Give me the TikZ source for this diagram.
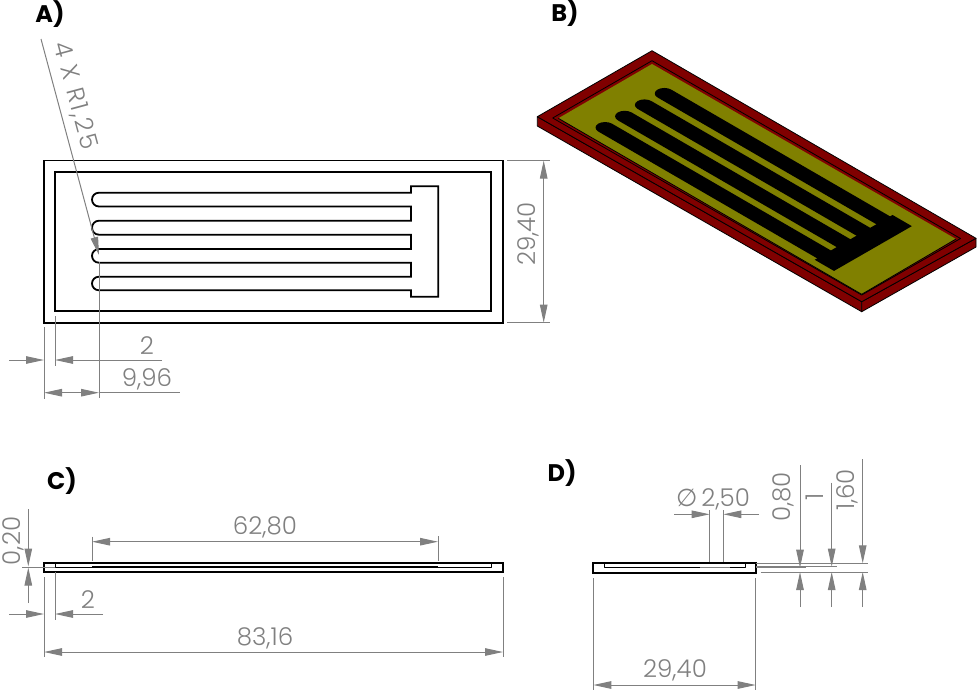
\documentclass[tikz,border=0pt]{standalone}
\usepackage{fontspec}
\setmainfont{Poppins}
\newfontfamily\dimfont{Poppins Light}
\newfontfamily\symfont{DejaVu Sans}
\usetikzlibrary{arrows.meta}
\definecolor{dimgray}{HTML}{808080}
\definecolor{boardred}{HTML}{800000}
\definecolor{boardolive}{HTML}{808000}
\tikzset{
  part/.style={black, line width=1.8pt, line join=miter},
  edgeline/.style={black, line width=0.8pt, line join=round},
  dimline/.style={dimgray, line width=1pt},
  dimarrow/.style={dimline, -{Triangle[length=18pt,width=7.5pt]}},
  dimboth/.style={dimline, {Triangle[length=18pt,width=7.5pt]}-{Triangle[length=18pt,width=7.5pt]}},
  dimlabel/.style={dimgray, font=\dimfont\fontsize{24.5}{24.5}\selectfont, inner sep=0pt},
  viewlabel/.style={black, font=\bfseries\fontsize{24}{24}\selectfont, inner sep=0pt},
}
\begin{document}
\begin{tikzpicture}[x=1pt,y=-1pt]
  \useasboundingbox (0,0) rectangle (980,694);

  % view labels
  \node [viewlabel] (labelA) at (50,14) {A)};
  \node [viewlabel] (labelB) at (565,13) {B)};
  \node [viewlabel] (labelC) at (62,481) {C)};
  \node [viewlabel] (labelD) at (562,473) {D)};

  % A) plan
  \draw [part] (44,160.5) rectangle (502.7,322.7);
  \draw [part] (55,172) rectangle (491,311);
  \draw [part] (99,192.7) -- (411,192.7) -- (411,186.3) -- (438.3,186.3) -- (438.3,296.7) -- (411,296.7) -- (411,290.3)
    -- (99,290.3) .. controls (95,290.3) and (92,287.2) .. (92,283.5) .. controls (92,279.8) and (95,276.7) .. (99,276.7)
    -- (411,276.7) -- (411,262.7)
    -- (99,262.7) .. controls (95,262.7) and (92,259.6) .. (92,255.8) .. controls (92,252.1) and (95,249) .. (99,249)
    -- (411,249) -- (411,234.7)
    -- (99,234.7) .. controls (95,234.7) and (92,231.6) .. (92,227.7) .. controls (92,223.9) and (95,220.7) .. (99,220.7)
    -- (411,220.7) -- (411,206.5)
    -- (99,206.5) .. controls (95,206.5) and (92,203.4) .. (92,199.6) .. controls (92,195.8) and (95,192.7) .. (99,192.7) -- cycle;

  \draw [dimline] (507,160.5) -- (550,160.5);
  \draw [dimline] (507,322.7) -- (550,322.7);
  \draw [dimboth] (543.7,160.5) -- (543.7,322.7);
  \node [dimlabel, rotate=90] (widthA) at (528,234) {29,40};

  \draw [dimarrow] (41,39) -- (99,255);
  \node [dimlabel, rotate=-75] (radius) at (75,96) {\addfontfeature{LetterSpace=8}4 X R1,25};

  \draw [dimline] (44,327) -- (44,399);
  \draw [dimline] (55,316) -- (55,366);
  \draw [dimline] (99,262) -- (99,398);
  \draw [dimarrow] (9,360) -- (44,360);
  \draw [dimarrow] (162,360) -- (55,360);
  \draw [dimboth] (44,392.7) -- (99,392.7);
  \draw [dimline] (99,392.7) -- (180,392.7);
  \node [dimlabel] (offsetA) at (147,346) {2};
  \node [dimlabel] (fingerA) at (147,379) {9,96};

  % B) 3d view
  \draw [edgeline, fill=boardred] (537.3,116.7) -- (861.7,301.7) -- (861.7,311.7) -- (537.3,126) -- cycle;
  \draw [edgeline, fill=boardred] (861.7,301.7) -- (976,238.3) -- (976,247) -- (861.7,311.7) -- cycle;
  \draw [edgeline, fill=boardred] (652,50.7) -- (537.3,116.7) -- (861.7,301.7) -- (976,238.3) -- cycle;
  \draw [edgeline, fill=boardred] (652,60.7) -- (552.7,118) -- (861.7,295) -- (960.5,238.5) -- cycle;
  \fill [boardolive] (652,64) -- (558.3,118.3) -- (861.7,294.3) -- (956,239) -- cycle;
  \draw [edgeline] (558.3,118.3) -- (861.7,294.3) -- (956,239);
  \begin{scope}[shift={(652,54.2)}, x={(0.706pt,-0.409pt)}, y={(-0.705pt,-0.4057pt)}, shift={(-44,-160)}]
    \fill [black] (411,186.3) -- (438.3,186.3) -- (438.3,296.7) -- (411,296.7) -- cycle;
    \foreach \y in {199.5,227.7,255.8,283.5}{
      \fill [black] (415,{\y-9.7}) -- (101,{\y-9.7}) .. controls (95.7,{\y-9.7}) and (91.3,{\y-5.3}) .. (91.3,\y)
        .. controls (91.3,{\y+5.3}) and (95.7,{\y+9.7}) .. (101,{\y+9.7}) -- (415,{\y+9.7}) -- cycle;
    }
  \end{scope}

  % C) side view
  \draw [part] (44,562.7) rectangle (503,572.3);
  \draw [edgeline] (55,563) -- (55,567.5) -- (491,567.5) -- (491,563);
  \draw [black, line width=1.5pt] (92,566.7) -- (438,566.7);

  \draw [dimline] (92,536.7) -- (92,561);
  \draw [dimline] (438,536) -- (438,561);
  \draw [dimboth] (92,541.7) -- (438,541.7);
  \node [dimlabel] (lengthC) at (265,527) {62,80};

  \draw [dimline] (44,577) -- (44,657);
  \draw [dimline] (503,577) -- (503,657);
  \draw [dimboth] (44,652) -- (503,652);
  \node [dimlabel] (totalC) at (265,638) {83,16};

  \draw [dimline] (55,572) -- (55,620);
  \draw [dimarrow] (9,614) -- (44,614);
  \draw [dimarrow] (103,614) -- (55,614);
  \node [dimlabel] (offsetC) at (88,600) {2};

  \draw [dimline] (22,567) -- (55,567);
  \draw [dimarrow] (28.3,509) -- (28.3,566.5);
  \draw [dimarrow] (28.3,603) -- (28.3,567.5);
  \node [dimlabel, rotate=90] (depthC) at (13,541) {0,20};

  % D) end view
  \draw [part] (593.3,563) rectangle (755.7,572.7);
  \draw [edgeline] (604.3,564) -- (604.3,567.3) -- (745,567.3) -- (745,564);
  \draw [black, line width=1.5pt] (619,567.6) -- (700,567.6);
  \draw [dimline] (700,567.3) -- (730,567.3);

  \draw [dimline] (593.3,578) -- (593.3,690);
  \draw [dimline] (755.7,578) -- (755.7,690);
  \draw [dimboth] (593.3,685) -- (755.7,685);
  \node [dimlabel] (widthD) at (675,670) {29,40};

  \draw [dimline] (709.7,510) -- (709.7,562);
  \draw [dimline] (723.3,510) -- (723.3,562);
  \draw [dimarrow] (674,514.3) -- (709.7,514.3);
  \draw [dimarrow] (759,514.3) -- (723.3,514.3);
  \node [dimlabel] (holeD) at (713,499) {{\symfont ∅}\,2,50};

  \draw [dimline] (756,563.3) -- (868,563.3);
  \draw [dimline] (760.7,572) -- (868,572);
  \draw [dimline] (756,566.7) -- (837,566.7);
  \draw [dimline] (756,567.7) -- (806,567.7);

  \draw [dimarrow] (800,465) -- (800,567.7);
  \draw [dimarrow] (800,607) -- (800,572);
  \node [dimlabel, rotate=90] (gapD) at (783,497) {0,80};
  \draw [dimarrow] (831.7,482.7) -- (831.7,566.7);
  \draw [dimarrow] (831.7,607) -- (831.7,572);
  \node [dimlabel, rotate=90] (stepD) at (815,497) {1};
  \draw [dimarrow] (862.7,459) -- (862.7,563.3);
  \draw [dimarrow] (862.7,607) -- (862.7,572);
  \node [dimlabel, rotate=90] (totalD) at (847.7,490) {1,60};
\end{tikzpicture}
\end{document}
